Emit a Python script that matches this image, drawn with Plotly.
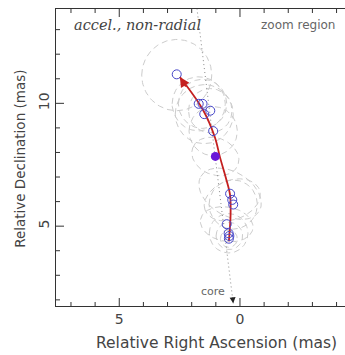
import numpy as np
import plotly.graph_objects as go

# Component positions (mas)
comp_ra = [2.62, 1.71, 1.55, 1.48, 1.23, 1.11, 0.41, 0.32, 0.28, 0.55, 0.47, 0.44, 0.46]
comp_dec = [11.18, 9.98, 9.98, 9.56, 9.70, 8.87, 6.32, 6.07, 5.88, 5.08, 4.71, 4.60, 4.49]
# Highlighted (filled) component
filled_ra = [1.02]
filled_dec = [7.84]
# Component sizes (ellipse: centre RA, Dec, semi-major, semi-minor, angle deg)
ell_ra = [2.62, 1.71, 1.55, 1.48, 1.23, 1.11, 1.02, 0.41, 0.32, 0.28, 0.55, 0.47, 0.44, 0.46]
ell_dec = [11.15, 9.98, 9.98, 9.56, 9.70, 8.87, 7.84, 6.32, 6.07, 5.88, 5.08, 4.71, 4.60, 4.49]
ell_a = [1.45, 1.10, 1.00, 1.20, 0.90, 1.00, 1.00, 1.40, 1.20, 1.00, 1.10, 0.80, 0.55, 0.35]
ell_b = [1.45, 1.10, 1.00, 1.20, 0.90, 1.00, 0.75, 0.90, 0.80, 1.00, 0.70, 0.80, 0.55, 0.35]
ell_pa = [0, 0, 0, 0, 0, 0, 20, 30, -20, 0, 10, 0, 0, 0]
# Fitted accelerated trajectory (mas)
fit_ra = [0.46, 0.39, 0.41, 0.58, 0.83, 1.04, 1.53, 2.49]
fit_dec = [4.38, 5.44, 6.26, 6.95, 7.81, 8.62, 9.73, 11.07]
# Radial direction from the core
core_ra = 0.28
core_dec = 1.86
radial_ra = [0.28, 1.80]
radial_dec = [1.86, 14.0]

x_range = [7.62, -4.35]
y_range = [1.75, 13.84]
major_step = 5
minor_step = 1

W, H = 345, 355
M = dict(l=56, r=0, t=9, b=49)
plot_w = W - M["l"] - M["r"]
plot_h = H - M["t"] - M["b"]
major_len, minor_len = 8, 4

fig = go.Figure()

t = np.linspace(0, 2 * np.pi, 120)
for cx, cy, a, b, pa in zip(ell_ra, ell_dec, ell_a, ell_b, ell_pa):
    th = np.deg2rad(pa)
    ex = a * np.cos(t)
    ey = b * np.sin(t)
    xr = cx + ex * np.cos(th) - ey * np.sin(th)
    yr = cy + ex * np.sin(th) + ey * np.cos(th)
    fig.add_trace(go.Scatter(x=xr, y=yr, mode="lines",
                             line=dict(color="#cccccc", width=1, dash="6px,4px"),
                             hoverinfo="skip", showlegend=False))

fig.add_trace(go.Scatter(x=radial_ra, y=radial_dec, mode="lines",
                         line=dict(color="#8a8a8a", width=1, dash="1px,3px"),
                         showlegend=False))

fig.add_trace(go.Scatter(x=fit_ra, y=fit_dec, mode="lines", line_shape="spline",
                         line=dict(color="#c42020", width=1.8), showlegend=False))

fig.add_trace(go.Scatter(x=comp_ra, y=comp_dec, mode="markers",
                         marker=dict(symbol="circle-open", size=9,
                                     color="#4646c8", line=dict(width=1)),
                         showlegend=False))
fig.add_trace(go.Scatter(x=filled_ra, y=filled_dec, mode="markers",
                         marker=dict(symbol="circle", size=9, color="#6a18d8"),
                         showlegend=False))

# tick marks (inside, bottom + top on x, left on y)
tick_line = dict(color="#333333", width=1)
x_lo, x_hi = min(x_range), max(x_range)
for v in np.arange(np.ceil(x_lo), np.floor(x_hi) + 1, minor_step):
    L = major_len if v % major_step == 0 else minor_len
    for y0, y1 in [(0, L / plot_h), (1, 1 - L / plot_h)]:
        fig.add_shape(type="line", xref="x", yref="paper", x0=v, x1=v, y0=y0, y1=y1,
                      line=tick_line, layer="above")
y_lo, y_hi = min(y_range), max(y_range)
for v in np.arange(np.ceil(y_lo), np.floor(y_hi) + 1, minor_step):
    L = major_len if v % major_step == 0 else minor_len
    fig.add_shape(type="line", xref="paper", yref="y", x0=0, x1=L / plot_w, y0=v, y1=v,
                  line=tick_line, layer="above")

# arrow heads
fig.add_annotation(x=fit_ra[-1], y=fit_dec[-1], ax=2.2, ay=10.62,
                   xref="x", yref="y", axref="x", ayref="y", text="",
                   showarrow=True, arrowhead=2, arrowsize=1.1, arrowwidth=1.8,
                   arrowcolor="#c42020")
fig.add_annotation(x=core_ra, y=core_dec, ax=0.31, ay=2.15,
                   xref="x", yref="y", axref="x", ayref="y", text="",
                   showarrow=True, arrowhead=2, arrowsize=1.2, arrowwidth=1,
                   arrowcolor="#222222")

fig.add_annotation(x=1.11, y=2.35, xref="x", yref="y", text="core",
                   showarrow=False, font=dict(family="DejaVu Sans", size=11, color="#666666"))
fig.add_annotation(x=0.055, y=0.947, xref="paper", yref="paper", xanchor="left",
                   yanchor="middle", text="<i>accel., non-radial</i>", showarrow=False,
                   font=dict(family="DejaVu Serif", size=14.5, color="#444444"))
fig.add_annotation(x=0.972, y=0.947, xref="paper", yref="paper", xanchor="right",
                   yanchor="middle", text="zoom region", showarrow=False,
                   font=dict(family="DejaVu Sans", size=12, color="#666666"))

fig.add_annotation(x=0.557, y=-0.126, xref="paper", yref="paper", xanchor="center",
                   yanchor="middle", text="Relative Right Ascension (mas)", showarrow=False,
                   font=dict(family="DejaVu Sans", size=15.5, color="#444444"))
fig.add_annotation(x=-0.125, y=0.495, xref="paper", yref="paper", xanchor="center",
                   yanchor="middle", text="Relative Declination (mas)", showarrow=False,
                   textangle=-90,
                   font=dict(family="DejaVu Sans", size=13.5, color="#444444"))

fig.update_layout(
    xaxis=dict(range=x_range, dtick=major_step, ticks="", showline=True,
               linecolor="#333333", mirror=True, showgrid=False, zeroline=False,
               tickfont=dict(family="DejaVu Sans", size=14, color="#444444")),
    yaxis=dict(range=y_range, dtick=major_step, ticks="", showline=True,
               linecolor="#333333", showgrid=False, zeroline=False, tickangle=-90,
               tickfont=dict(family="DejaVu Sans", size=14, color="#444444")),
    width=W, height=H, margin=M,
    plot_bgcolor="white", paper_bgcolor="white", showlegend=False)

fig.write_html("out.html")
